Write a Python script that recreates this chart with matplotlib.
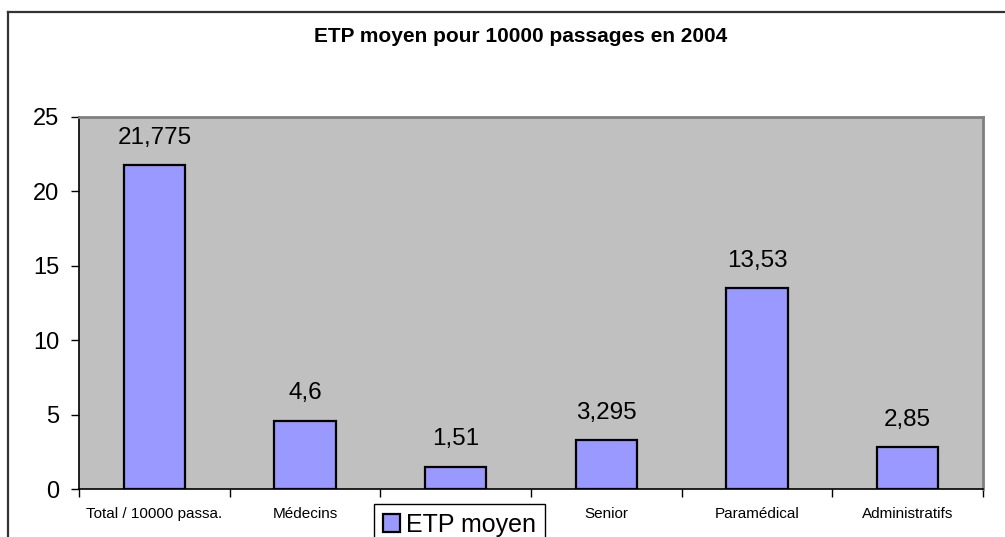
import matplotlib
matplotlib.use("Agg")
import matplotlib.pyplot as plt
from matplotlib.lines import Line2D
import numpy as np

plt.rcParams['font.family'] = ['Liberation Sans', 'DejaVu Sans']

# third category name is hidden behind the legend in the source chart
categories = ["Total / 10000 passa.", "Médecins", "", "Senior", "Paramédical", "Administratifs"]
values = [21.775, 4.6, 1.51, 3.295, 13.53, 2.85]
value_labels = ["21,775", "4,6", "1,51", "3,295", "13,53", "2,85"]
series_name = "ETP moyen"
title = "ETP moyen pour 10000 passages en 2004"
yticks = [0, 5, 10, 15, 20, 25]

W, H = 1005, 537
fig = plt.figure(figsize=(W / 100, H / 100), dpi=100)

# outer chart border (left and top visible)
fig.add_artist(Line2D([8 / W, 8 / W], [0, 1 - 12 / H], transform=fig.transFigure, color='#333333', lw=1.6))
fig.add_artist(Line2D([8 / W, 1], [1 - 12 / H, 1 - 12 / H], transform=fig.transFigure, color='#333333', lw=1.6))

ax = fig.add_axes([79 / W, 1 - 489 / H, (983 - 79) / W, (489 - 117) / H])
ax.set_facecolor('#C0C0C0')
x = np.arange(len(categories))
ax.bar(x, values, width=0.405, color='#9999FF', edgecolor='black', linewidth=1.6,
       label=series_name, zorder=3)
for xi, v, lab in zip(x, values, value_labels):
    ax.annotate(lab, (xi, v), xytext=(0, 19.5), textcoords='offset points',
                ha='center', va='center', fontsize=17.5)

ax.set_xlim(-0.5, len(categories) - 0.5)
ax.set_ylim(0, 25)
ax.set_yticks(yticks)
ax.set_yticklabels([str(t) for t in yticks], fontsize=17)
ax.set_xticks(x)
ax.set_xticklabels(categories, fontsize=11)
ax.tick_params(axis='x', length=0, pad=13)
ax.set_xticks(np.arange(len(categories) + 1) - 0.5, minor=True)
ax.tick_params(axis='x', which='minor', length=6, direction='out', width=1)
ax.tick_params(axis='y', length=6, direction='out', width=1, pad=8)
for s in ['left', 'bottom']:
    ax.spines[s].set_color('black')
    ax.spines[s].set_linewidth(1.2)
for s in ['top', 'right']:
    ax.spines[s].set_color('#808080')
    ax.spines[s].set_linewidth(2)

fig.text(521 / W, 1 - 37 / H, title, ha='center', va='center', fontsize=15, fontweight='bold')

leg = ax.legend(loc='upper left', bbox_to_anchor=(374 / W, 1 - 504 / H), bbox_transform=fig.transFigure,
                fontsize=18, frameon=True, fancybox=False, edgecolor='black', facecolor='white',
                framealpha=1, handlelength=0.68, handleheight=0.68, handletextpad=0.25,
                borderpad=0.35, borderaxespad=0)
leg.get_frame().set_linewidth(1)
for h in leg.legend_handles:
    h.set_linewidth(1.6)
leg.set_zorder(10)

fig.savefig('out.png', dpi=100)
